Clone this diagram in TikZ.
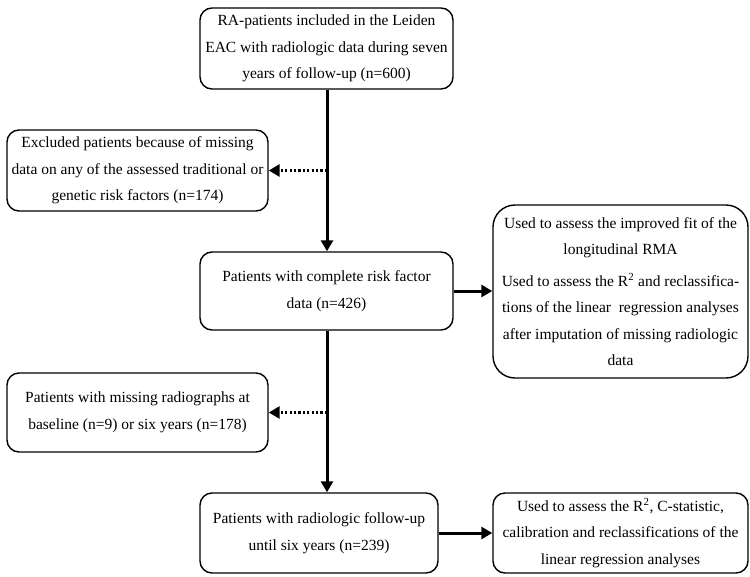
\documentclass[tikz,border=0pt]{standalone}
\usepackage{fontspec}
\setmainfont{Liberation Serif}
\usetikzlibrary{arrows.meta}
\begin{document}
\begin{tikzpicture}[x=1pt,y=-1pt,
  box/.style={draw, line width=1.4pt, rounded corners=12pt, align=center, inner sep=0pt,
    font=\fontsize{15.5}{26.5}\selectfont},
  bigbox/.style={box, rounded corners=22pt},
  arr/.style={line width=3pt, -{Triangle[length=11pt,width=12pt]}},
  dotarr/.style={line width=3pt, dash pattern=on 2.2pt off 2.2pt, -{Triangle[length=11pt,width=12pt]}}
]
\useasboundingbox (0,0) rectangle (750,576);
\node[box, minimum width=253pt, minimum height=81pt] (b1) at (326.5,48.5)
  {RA-patients included in the Leiden\\EAC with radiologic data during seven\\years of follow-up (n=600)};
\node[box, minimum width=261pt, minimum height=81pt] (b2) at (137.5,170.5)
  {Excluded patients because of missing\\data on any of the assessed traditional or\\genetic risk factors (n=174)};
\node[box, minimum width=253pt, minimum height=78pt] (b3) at (326.5,291)
  {Patients with complete risk factor\\data (n=426)};
\node[bigbox, minimum width=255pt, minimum height=173pt] (b4) at (620.5,291.5)
  {Used to assess the improved fit of the\\longitudinal RMA\\[5pt]
   Used to assess the R\textsuperscript{2} and reclassifica-\\tions of the linear\ \ regression analyses\\after imputation of missing radiologic\\data};
\node[box, minimum width=261pt, minimum height=79pt] (b5) at (137.5,412.5)
  {Patients with missing radiographs at\\baseline (n=9) or six years (n=178)};
\node[box, minimum width=238pt, minimum height=80pt] (b6) at (319,533)
  {Patients with radiologic follow-up\\until six years (n=239)};
\node[box, minimum width=255pt, minimum height=80pt] (b7) at (620.5,533)
  {Used to assess the R\textsuperscript{2}, C-statistic,\\calibration and reclassifications of the\\linear regression analyses};
\coordinate (j1) at (327,170.5);
\coordinate (j2) at (327,412.5);
\draw[arr] (b1.south -| j1) -- (b3.north -| j1);
\draw[arr] (b3.south -| j1) -- (b6.north -| j1);
\draw[dotarr] (j1) -- (b2.east);
\draw[dotarr] (j2) -- (b5.east);
\draw[arr] (b3.east) -- (b3.east -| b4.west);
\draw[arr] (b6.east) -- (b6.east -| b7.west);
\end{tikzpicture}
\end{document}
